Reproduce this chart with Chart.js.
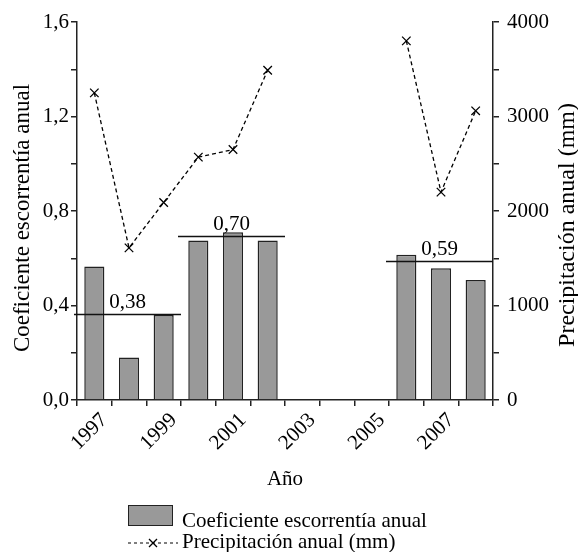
<!DOCTYPE html>
<html>
<head>
<meta charset="utf-8">
<script src="https://cdn.jsdelivr.net/npm/chart.js@4.4.1/dist/chart.umd.min.js"></script>
<style>
  html, body { margin: 0; padding: 0; background: #fff; }
  #wrap { position: relative; width: 578px; height: 552px; font-family: "Liberation Serif", serif; color: #000; }
  #chart { position: absolute; left: 0; top: 0; }
  .leg { position: absolute; font-size: 21px; line-height: 22px; white-space: nowrap; }
  #box { position: absolute; left: 128px; top: 505px; width: 43px; height: 19px; background: #999; border: 1.5px solid #222; }
</style>
</head>
<body>
<div id="wrap">
  <canvas id="chart" width="578" height="552"></canvas>
  <div id="box"></div>
  <div class="leg" style="left:182px; top:509px;">Coeficiente escorrentía anual</div>
  <svg style="position:absolute; left:128px; top:536px;" width="50" height="14">
    <line x1="0" y1="7" x2="50" y2="7" stroke="#000" stroke-width="1.2" stroke-dasharray="3,3"/>
    <path d="M21 3 L29 11 M29 3 L21 11" stroke="#000" stroke-width="1.3"/>
  </svg>
  <div class="leg" style="left:182px; top:530px;">Precipitación anual (mm)</div>
</div>
<script>
// datos
const years = ['1997', '1998', '1999', '2000', '2001', '2002', '2003', '2004', '2005', '2006', '2007', '2008'];
const coeficiente = [0.565, 0.18, 0.36, 0.675, 0.71, 0.675, null, null, null, 0.615, 0.558, 0.508];
const precipitacion = [3250, 1610, 2090, 2570, 2650, 3490, null, null, null, 3800, 2200, 3060];

// promedios por periodo
const avgLabels = ['0,38', '0,70', '0,59'];
const avgValues = [0.365, 0.695, 0.59];
const avgFrom = [0, 3, 9];
const avgTo = [2, 5, 11];

const serif = '"Liberation Serif", "Times New Roman", serif';
const axisColor = '#222';

// dibuja las líneas de promedio con su etiqueta
const promedios = {
    id: 'promedios',
    afterDatasetsDraw(chart) {
        const { ctx } = chart;
        const x = chart.scales.x;
        const y = chart.scales.y;
        const half = (x.getPixelForValue(1) - x.getPixelForValue(0)) / 2;
        ctx.save();
        ctx.strokeStyle = '#111';
        ctx.lineWidth = 1.4;
        ctx.fillStyle = '#000';
        ctx.font = '21px ' + serif;
        ctx.textAlign = 'center';
        ctx.textBaseline = 'bottom';
        avgValues.forEach((v, i) => {
            const x0 = x.getPixelForValue(avgFrom[i]) - half - 3;
            const x1 = x.getPixelForValue(avgTo[i]) + half;
            const py = Math.round(y.getPixelForValue(v)) + 0.5;
            ctx.beginPath();
            ctx.moveTo(x0, py);
            ctx.lineTo(x1, py);
            ctx.stroke();
            ctx.fillText(avgLabels[i], (x0 + x1) / 2, py - 2);
        });
        ctx.restore();
    }
};

// títulos verticales, los dos leídos de abajo hacia arriba
const titulosY = {
    id: 'titulosY',
    afterDraw(chart) {
        const { ctx, chartArea } = chart;
        const mid = (chartArea.top + chartArea.bottom) / 2;
        ctx.save();
        ctx.fillStyle = '#000';
        ctx.textAlign = 'center';
        ctx.textBaseline = 'middle';
        ctx.translate(23, mid + 7);
        ctx.rotate(-Math.PI / 2);
        ctx.font = '23px ' + serif;
        ctx.fillText('Coeficiente escorrentía anual', 0, 0);
        ctx.restore();
        ctx.save();
        ctx.fillStyle = '#000';
        ctx.textAlign = 'center';
        ctx.textBaseline = 'middle';
        ctx.translate(568, mid + 14);
        ctx.rotate(-Math.PI / 2);
        ctx.font = '24px ' + serif;
        ctx.fillText('Precipitación anual (mm)', 0, 0);
        ctx.restore();
    }
};

new Chart(document.getElementById('chart'), {
    data: {
        labels: years,
        datasets: [{
            type: 'line',
            label: 'Precipitación anual (mm)',
            data: precipitacion,
            yAxisID: 'y1',
            order: 0,
            borderColor: '#000',
            borderWidth: 1.3,
            borderDash: [4, 3],
            fill: false,
            spanGaps: false,
            tension: 0,
            pointStyle: 'crossRot',
            pointRadius: 6,
            pointBorderColor: '#000',
            pointBorderWidth: 1.3
        }, {
            type: 'bar',
            label: 'Coeficiente escorrentía anual',
            data: coeficiente,
            yAxisID: 'y',
            order: 1,
            backgroundColor: '#999',
            borderColor: '#222',
            borderWidth: 1.5,
            categoryPercentage: 1,
            barPercentage: 0.58
        }]
    },
    options: {
        responsive: false,
        animation: false,
        layout: { padding: { top: 22, bottom: 52, left: 0, right: 0 } },
        plugins: {
            legend: { display: false },
            tooltip: { enabled: false }
        },
        scales: {
            x: {
                type: 'category',
                offset: true,
                grid: { offset: true, drawOnChartArea: false, tickLength: 6, color: axisColor, lineWidth: 1.5 },
                border: { color: axisColor, width: 1.5 },
                ticks: {
                    autoSkip: false,
                    minRotation: 45,
                    maxRotation: 45,
                    padding: 2,
                    labelOffset: 10,
                    color: '#000',
                    font: { family: serif, size: 21 },
                    callback: (v, i) => (i % 2 === 0 ? years[i] : '')
                },
                title: {
                    display: true,
                    text: 'Año',
                    color: '#000',
                    font: { family: serif, size: 21, lineHeight: 1.2 },
                    padding: { top: 4, bottom: 8 }
                },
                afterFit: (s) => { s.height = 100; }
            },
            y: {
                position: 'left',
                min: 0,
                max: 1.6,
                grid: { drawOnChartArea: false, tickLength: 6, color: axisColor, lineWidth: 1.5 },
                border: { color: axisColor, width: 1.5 },
                ticks: {
                    stepSize: 0.2,
                    padding: 2,
                    color: '#000',
                    font: { family: serif, size: 21 },
                    callback: (v) => (Math.round(v * 5) % 2 === 0 ? v.toFixed(1).replace('.', ',') : '')
                },
                afterFit: (s) => { s.width = 77; }
            },
            y1: {
                position: 'right',
                min: 0,
                max: 4000,
                grid: { drawOnChartArea: false, tickLength: 6, color: axisColor, lineWidth: 1.5 },
                border: { color: axisColor, width: 1.5 },
                ticks: {
                    stepSize: 500,
                    padding: 8,
                    color: '#000',
                    font: { family: serif, size: 21 },
                    callback: (v) => (v % 1000 === 0 ? String(v) : '')
                },
                afterFit: (s) => { s.width = 85; }
            }
        }
    },
    plugins: [promedios, titulosY]
});
</script>
</body>
</html>
